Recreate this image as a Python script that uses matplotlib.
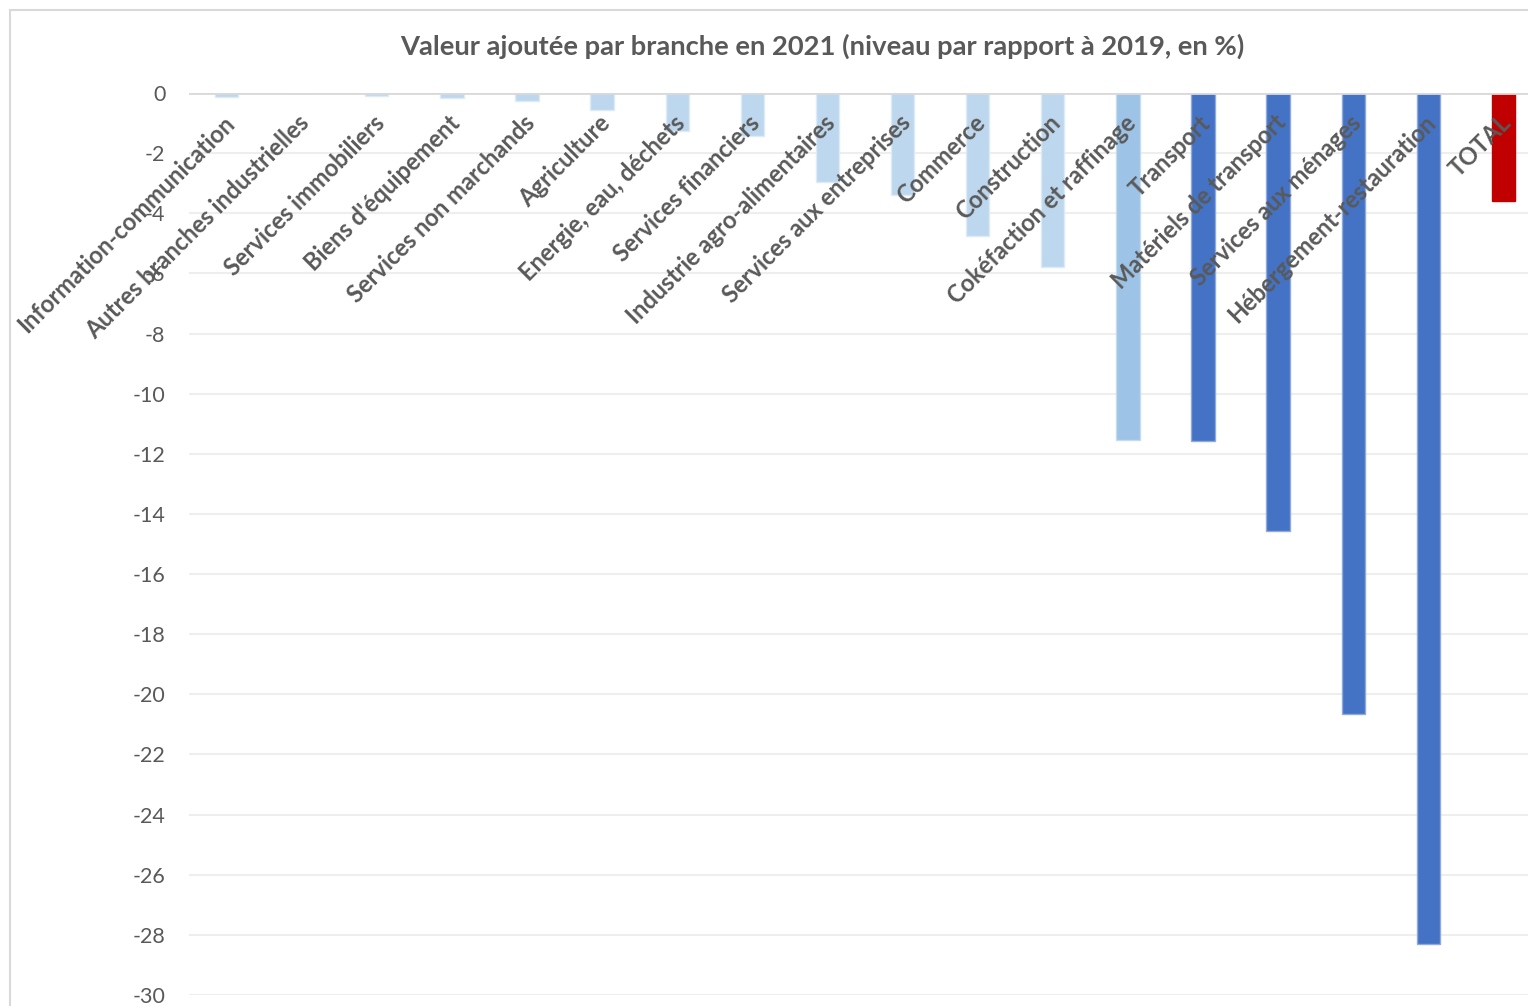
import matplotlib.pyplot as plt
from matplotlib.patches import Rectangle

# branches, sorted as in the source chart
branches = [
    "Information-communication",
    "Autres branches industrielles",
    "Services immobiliers",
    "Biens d'équipement",
    "Services non marchands",
    "Agriculture",
    "Energie, eau, déchets",
    "Services financiers",
    "Industrie agro-alimentaires",
    "Services aux entreprises",
    "Commerce",
    "Construction",
    "Cokéfaction et raffinage",
    "Transport",
    "Matériels de transport",
    "Services aux ménages",
    "Hébergement-restauration",
    "TOTAL",
]
# niveau 2021 par rapport à 2019, en %
values = [-0.13, 0.0, -0.10, -0.17, -0.25, -0.57, -1.27, -1.43, -2.97, -3.40,
          -4.75, -5.78, -11.53, -11.57, -14.56, -20.65, -28.30, -3.59]
yticks = list(range(0, -31, -2))

light = "#BDD7EE"
mid = "#9DC3E6"
dark = "#4472C4"
red = "#C00000"
colours = [light] * 12 + [mid] + [dark] * 4 + [red]
edges = ["#DDEBF7"] * 12 + ["#C5DCF0"] + ["#8FAADC"] * 4 + ["#C00000"]
txt = "#595959"

plt.rcParams['font.family'] = ['Lato', 'DejaVu Sans']

fig = plt.figure(figsize=(15.28, 10.06), dpi=100)
# chart area border (only top and left visible in the crop)
fig.patches.append(Rectangle((10 / 1528, -0.1), 1.2, (1006 - 10) / 1006 + 0.1,
                             transform=fig.transFigure, fill=False,
                             edgecolor="#D9D9D9", lw=1.5))

ax = fig.add_axes([189 / 1528, 11 / 1006, 1352 / 1528, 902 / 1006])
x = range(len(branches))
ax.bar(x, values, width=0.31, color=colours, edgecolor=edges, linewidth=1, zorder=3)

ax.set_xlim(-0.5, len(branches) - 0.5)
ax.set_ylim(-30, 0)
ax.set_yticks(yticks)
ax.set_yticklabels([str(t) for t in yticks], fontsize=15.5, color=txt)
ax.tick_params(axis='y', length=0, pad=17)
ax.set_xticks([])
ax.grid(axis='y', color="#EEEEEE", lw=1.5, zorder=0)
for s in ax.spines.values():
    s.set_visible(False)
ax.axhline(0, color="#D9D9D9", lw=2, zorder=4)

for i, name in enumerate(branches):
    ax.annotate(name, (i, 0), xytext=(-3, -13), textcoords='offset points',
                rotation=45, rotation_mode='anchor', ha='right', va='top',
                fontsize=17, fontweight='bold', color=txt, zorder=5)

fig.text(822 / 1528, 1 - 46 / 1006,
         "Valeur ajoutée par branche en 2021 (niveau par rapport à 2019, en %)",
         ha='center', va='center', fontsize=19.7, fontweight='bold', color=txt)

fig.savefig("out.png", dpi=100)
